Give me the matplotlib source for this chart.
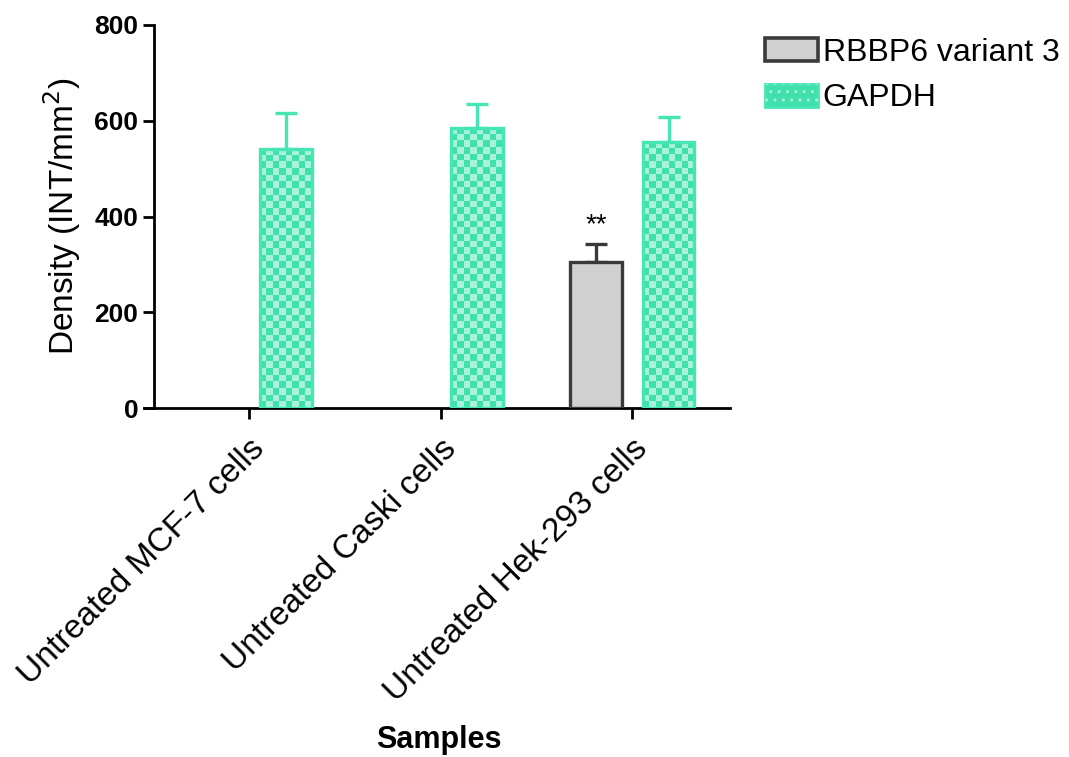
import numpy as np
import matplotlib
matplotlib.use("Agg")
import matplotlib.pyplot as plt
from matplotlib.colors import ListedColormap
from matplotlib.patches import Patch
from matplotlib.legend_handler import HandlerTuple

plt.rcParams['font.family'] = ['Liberation Sans', 'DejaVu Sans']

# data
samples = ["Untreated MCF-7 cells", "Untreated Caski cells", "Untreated Hek-293 cells"]
rbbp6 = [0, 0, 306]
rbbp6_err = [0, 0, 37]
gapdh = [542, 585, 556]
gapdh_err = [75, 50, 52]
stars = ["", "", "**"]

GREEN = "#45e6b3"
CHECK_DARK = "#3fe0ab"
CHECK_LIGHT = "#a8f3da"
GREY_FILL = "#d0d0d0"
GREY_EDGE = "#3a3a3a"

fig = plt.figure(figsize=(10.69, 7.57), dpi=100)
ax = fig.add_axes([0.1347, 0.461, 0.548, 0.506])

x = np.arange(len(samples))
w = 0.27
off = 0.19

ax.set_xlim(-0.55, 2.51)
ax.set_ylim(0, 800)

# RBBP6 bars (only where non-zero)
has = [v > 0 for v in rbbp6]
rb = ax.bar(x[has] - off, np.array(rbbp6)[has], w, color=GREY_FILL,
            edgecolor=GREY_EDGE, linewidth=2.4, zorder=3)
ax.errorbar(x[has] - off, np.array(rbbp6)[has],
            yerr=[np.zeros(sum(has)), np.array(rbbp6_err)[has]],
            fmt='none', ecolor=GREY_EDGE, elinewidth=2.4, capsize=8, capthick=2.4, zorder=2)

gp = ax.bar(x + off, gapdh, w, color='none', edgecolor=GREEN,
            linewidth=2.4, zorder=3)
ax.errorbar(x + off, gapdh, yerr=[np.zeros(len(gapdh)), gapdh_err],
            fmt='none', ecolor=GREEN, elinewidth=2.4, capsize=8, capthick=2.4, zorder=2)

# checkerboard fill for GAPDH bars
cmap = ListedColormap([CHECK_DARK, CHECK_LIGHT])
cell_px = 6.6
for bar in gp:
    x0, y0 = bar.get_x(), bar.get_y()
    bw, bh = bar.get_width(), bar.get_height()
    p0 = ax.transData.transform((x0, y0))
    p1 = ax.transData.transform((x0 + bw, y0 + bh))
    nx = max(1, int(round((p1[0] - p0[0]) / cell_px)))
    ny = max(1, int(round((p1[1] - p0[1]) / cell_px)))
    arr = np.add.outer(np.arange(ny), np.arange(nx)) % 2
    ax.imshow(arr, extent=(x0, x0 + bw, y0, y0 + bh), origin='lower', cmap=cmap,
              aspect='auto', interpolation='nearest', zorder=2.5)

ax.set_xlim(-0.55, 2.51)
ax.set_ylim(0, 800)

for xi, top, err, s in zip(x, rbbp6, rbbp6_err, stars):
    if s:
        ax.text(xi - off, top + err + 12, s, ha='center', va='bottom', fontsize=20)

ax.spines['top'].set_visible(False)
ax.spines['right'].set_visible(False)
ax.spines['left'].set_position(('data', -0.5))
for sp in ['left', 'bottom']:
    ax.spines[sp].set_linewidth(2.0)

ax.set_yticks([0, 200, 400, 600, 800])
ax.tick_params(axis='y', length=8, width=2.0, labelsize=19, pad=3)
for lbl in ax.get_yticklabels():
    lbl.set_fontweight('bold')

ax.set_xticks(x)
ax.set_xticklabels(samples, rotation=45, ha='right', rotation_mode='anchor', fontsize=24)
ax.tick_params(axis='x', length=8, width=2.0, pad=10)

ax.set_ylabel("Density (INT/mm$^2$)", fontsize=24, labelpad=8)
fig.text(0.411, 1 - 740 / 757, "Samples", ha='center', va='center',
         fontsize=22, fontweight='bold')

# legend handles
h1 = Patch(facecolor=GREY_FILL, edgecolor=GREY_EDGE, linewidth=2.6)
h2 = (Patch(facecolor=CHECK_DARK, edgecolor=GREEN, linewidth=2.0),
      Patch(facecolor='none', edgecolor=CHECK_LIGHT, linewidth=0, hatch='..'))
leg = fig.legend([h1, h2], ["RBBP6 variant 3", "GAPDH"], loc='upper left',
                 bbox_to_anchor=(0.689, 0.988), frameon=False, fontsize=23,
                 handlelength=1.65, handleheight=0.72, handletextpad=0.15,
                 labelspacing=0.49, handler_map={tuple: HandlerTuple(ndivide=1, pad=0)})

fig.savefig("out.png", dpi=100)
